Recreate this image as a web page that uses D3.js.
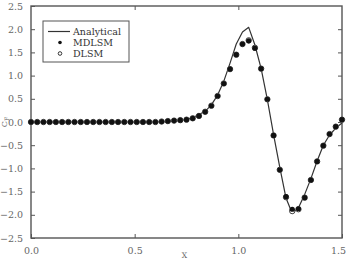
<!DOCTYPE html>
<html>
<head>
<meta charset="utf-8">
<script src="https://cdn.jsdelivr.net/npm/d3@7"></script>
<style>
  body { margin: 0; background: #fff; }
  svg { display: block; }
  .tick text { font-family: "DejaVu Serif", serif; }
</style>
</head>
<body>
<div id="chart"></div>
<script>
// analytical solution
const analyticalX = [0.0, 0.6, 0.66, 0.72, 0.78, 0.84, 0.87, 0.90, 0.93, 0.96, 0.99, 1.02, 1.05, 1.08, 1.11, 1.14, 1.17, 1.20, 1.23, 1.26, 1.29, 1.32, 1.35, 1.38, 1.41, 1.44, 1.47, 1.50];
const analyticalY = [0.0, 0.0, 0.01, 0.03, 0.09, 0.23, 0.37, 0.58, 0.88, 1.27, 1.68, 1.94, 2.04, 1.66, 1.15, 0.48, -0.27, -0.98, -1.64, -1.97, -1.85, -1.56, -1.22, -0.84, -0.5, -0.28, -0.13, -0.02];

// sample positions of both methods
const sampleX = [0.00, 0.03, 0.06, 0.09, 0.12, 0.15, 0.18, 0.21, 0.24, 0.27, 0.30, 0.33, 0.36, 0.39, 0.42, 0.45, 0.48, 0.51, 0.54, 0.57, 0.60, 0.63, 0.66, 0.69, 0.72, 0.75, 0.78, 0.81, 0.84, 0.87, 0.90, 0.93, 0.96, 0.99, 1.02, 1.05, 1.08, 1.11, 1.14, 1.17, 1.20, 1.23, 1.26, 1.29, 1.32, 1.35, 1.38, 1.41, 1.44, 1.47, 1.50];
const mdlsm = [0, 0, 0, 0, 0, 0, 0, 0, 0, 0, 0, 0, 0, 0, 0, 0, 0, 0, 0, 0, 0, 0.01, 0.02, 0.03, 0.04, 0.05, 0.08, 0.13, 0.22, 0.35, 0.56, 0.83, 1.14, 1.45, 1.68, 1.75, 1.59, 1.15, 0.49, -0.29, -1.03, -1.61, -1.88, -1.87, -1.63, -1.25, -0.85, -0.51, -0.26, -0.10, 0.05];
const dlsm = [0, 0, 0, 0, 0, 0, 0, 0, 0, 0, 0, 0, 0, 0, 0, 0, 0, 0, 0, 0, 0, 0.01, 0.02, 0.03, 0.04, 0.05, 0.08, 0.13, 0.22, 0.35, 0.56, 0.83, 1.14, 1.45, 1.68, 1.76, 1.60, 1.15, 0.49, -0.29, -1.03, -1.62, -1.92, -1.88, -1.63, -1.25, -0.85, -0.51, -0.26, -0.10, 0.05];

const xTicks = [0, 0.5, 1.0, 1.5];
const yTicks = [-2.5, -2.0, -1.5, -1.0, -0.5, 0.0, 0.5, 1.0, 1.5, 2.0, 2.5];
const legendNames = ["Analytical", "MDLSM", "DLSM"];

const width = 347, height = 262;
const margin = { top: 6, right: 5, bottom: 24, left: 31 };
const axisColor = "#555";
const labelColor = "#666";

const svg = d3.select("#chart").append("svg")
    .attr("width", width)
    .attr("height", height);

const x = d3.scaleLinear().domain([0, 1.5]).range([margin.left, width - margin.right]);
const y = d3.scaleLinear().domain([-2.5, 2.5]).range([height - margin.bottom, margin.top]);

// axes, ticks inward on all four sides
const fmt = d3.format(".1f");
const styleAxis = g => {
    g.select(".domain").remove();
    g.selectAll(".tick line").attr("stroke", axisColor).attr("stroke-width", 1);
    g.selectAll(".tick text").attr("fill", labelColor).attr("font-size", "9.5px");
};

const bottomAxis = svg.append("g")
    .attr("transform", `translate(0,${y(-2.5)})`)
    .call(d3.axisBottom(x).tickValues(xTicks).tickFormat(fmt).tickSizeInner(-4).tickPadding(9))
    .call(styleAxis);
// last label sits right at the edge, nudge it inside
bottomAxis.selectAll(".tick text").filter(d => d === 1.5).attr("dx", -4);

svg.append("g")
    .attr("transform", `translate(0,${y(2.5)})`)
    .call(d3.axisTop(x).tickValues(xTicks.slice(1, -1)).tickFormat("").tickSizeInner(-4))
    .call(styleAxis);

svg.append("g")
    .attr("transform", `translate(${x(0)},0)`)
    .call(d3.axisLeft(y).tickValues(yTicks).tickFormat(fmt).tickSizeInner(-4).tickPadding(8))
    .call(styleAxis);

svg.append("g")
    .attr("transform", `translate(${x(1.5)},0)`)
    .call(d3.axisRight(y).tickValues(yTicks.slice(1, -1)).tickFormat("").tickSizeInner(-4))
    .call(styleAxis);

svg.append("rect")
    .attr("x", x(0))
    .attr("y", y(2.5))
    .attr("width", x(1.5) - x(0))
    .attr("height", y(-2.5) - y(2.5))
    .attr("fill", "none")
    .attr("stroke", axisColor)
    .attr("stroke-width", 1.4);

// axis titles
svg.append("text")
    .attr("transform", `translate(7,${y(0)}) rotate(-90)`)
    .attr("text-anchor", "middle")
    .attr("font-family", "DejaVu Serif, serif")
    .attr("font-size", "8px")
    .attr("fill", labelColor)
    .text("C")
    .append("tspan")
    .attr("font-size", "6px")
    .attr("dy", 2)
    .text("F");

svg.append("text")
    .attr("x", x(0.74))
    .attr("y", 258)
    .attr("text-anchor", "middle")
    .attr("font-family", "DejaVu Serif, serif")
    .attr("font-size", "7.5px")
    .attr("fill", labelColor)
    .text("X");

// analytical line
const line = d3.line()
    .x((d, i) => x(analyticalX[i]))
    .y(d => y(d));

svg.append("path")
    .datum(analyticalY)
    .attr("fill", "none")
    .attr("stroke", "#333")
    .attr("stroke-width", 1.2)
    .attr("stroke-linejoin", "round")
    .attr("d", line);

// DLSM open circles
svg.append("g").selectAll("circle")
    .data(dlsm)
    .join("circle")
    .attr("cx", (d, i) => x(sampleX[i]))
    .attr("cy", d => y(d))
    .attr("r", 2.7)
    .attr("fill", "#fff")
    .attr("stroke", "#444")
    .attr("stroke-width", 1);

// MDLSM filled markers
svg.append("g").selectAll("circle")
    .data(mdlsm)
    .join("circle")
    .attr("cx", (d, i) => x(sampleX[i]))
    .attr("cy", d => y(d))
    .attr("r", 2.6)
    .attr("fill", "#111");

// legend
const legend = svg.append("g").attr("transform", "translate(43,21)");
legend.append("rect")
    .attr("width", 86)
    .attr("height", 41)
    .attr("fill", "#fff")
    .attr("stroke", axisColor)
    .attr("stroke-width", 1);

legendNames.forEach((name, i) => {
    const cy = 10.5 + i * 11;
    if (i === 0) {
        legend.append("line")
            .attr("x1", 5).attr("x2", 27)
            .attr("y1", cy).attr("y2", cy)
            .attr("stroke", "#333").attr("stroke-width", 1.2);
    } else if (i === 1) {
        legend.append("circle").attr("cx", 17).attr("cy", cy).attr("r", 1.8).attr("fill", "#111");
    } else {
        legend.append("circle").attr("cx", 17).attr("cy", cy).attr("r", 1.8)
            .attr("fill", "#fff").attr("stroke", "#333").attr("stroke-width", 1);
    }
    legend.append("text")
        .attr("x", 30)
        .attr("y", cy + 3.5)
        .attr("font-family", "DejaVu Serif, serif")
        .attr("font-size", "9.5px")
        .attr("fill", "#333")
        .text(name);
});
</script>
</body>
</html>
